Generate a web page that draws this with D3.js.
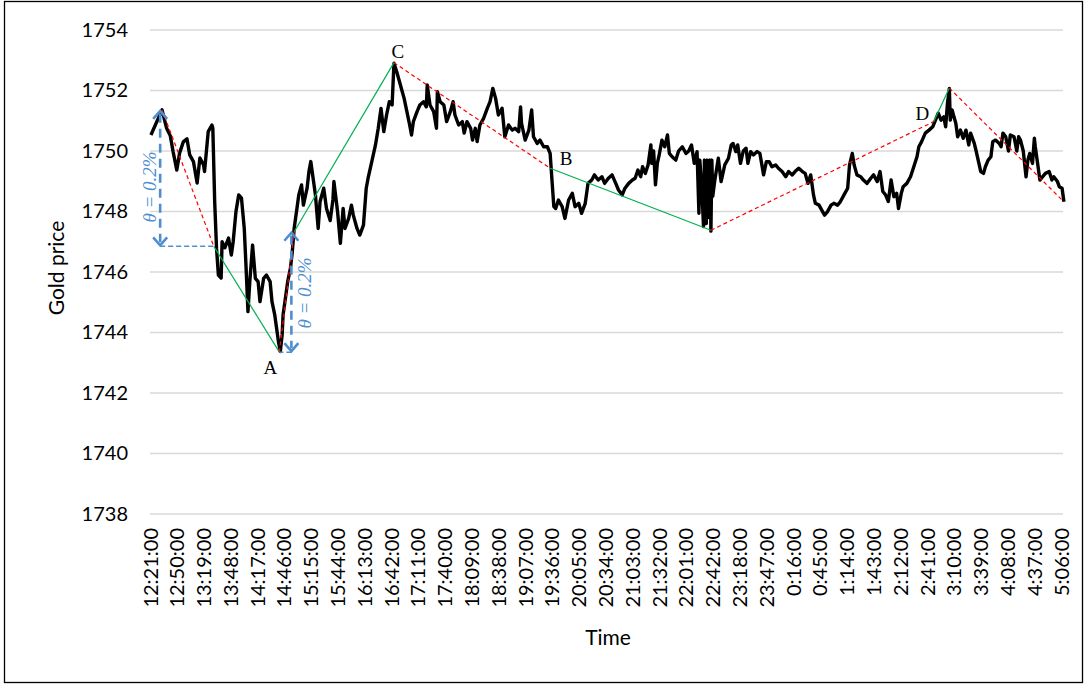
<!DOCTYPE html>
<html><head><meta charset="utf-8">
<script src="https://cdn.jsdelivr.net/npm/d3@7"></script>
<style>body{margin:0;background:#fff}svg{display:block}</style>
</head><body>
<svg id="c" width="1085" height="684"></svg>
<script>
const timeLabels = ["12:21:00","12:50:00","13:19:00","13:48:00","14:17:00","14:46:00","15:15:00","15:44:00","16:13:00","16:42:00","17:11:00","17:40:00","18:09:00","18:38:00","19:07:00","19:36:00","20:05:00","20:34:00","21:03:00","21:32:00","22:01:00","22:42:00","23:18:00","23:47:00","0:16:00","0:45:00","1:14:00","1:43:00","2:12:00","2:41:00","3:10:00","3:39:00","4:08:00","4:37:00","5:06:00"];
const labelStep = 29;
const minuteCount = 989;
const yTicks = [1738,1740,1742,1744,1746,1748,1750,1752,1754];

const minuteIndex = [1,13,18,22,25,29,32,36,40,43,47,51,54,58,59,63,67,68,70,72,74,77,78,81,85,88,90,93,96,99,102,104,106,108,111,114,117,119,123,126,130,132,135,137,139,141,143,144,146,149,152,154,156,159,161,164,166,170,172,174,177,179,182,184,188,191,195,198,199,203,206,209,211,215,218,220,224,227,231,234,236,240,244,247,250,253,256,259,262,264,267,270,273,275,278,281,283,285,289,292,296,299,300,303,307,310,311,314,318,321,325,328,330,334,338,340,343,347,349,352,354,357,361,365,368,371,374,377,381,384,388,392,395,399,401,402,406,410,413,415,419,422,426,430,433,435,437,439,442,446,449,453,457,460,464,467,471,474,478,481,485,489,492,496,500,504,507,511,514,518,522,525,528,531,533,536,539,542,543,545,547,549,551,554,557,560,562,565,569,572,576,580,583,586,589,592,594,595,597,599,600,602,603,605,606,607,608,609,611,615,618,622,626,629,631,634,636,639,642,645,647,650,653,657,660,664,667,670,673,677,680,684,688,691,695,698,702,706,709,712,715,718,720,724,728,730,733,737,740,744,747,751,755,757,760,762,765,769,772,776,780,783,787,790,793,796,799,802,805,808,810,813,815,819,823,826,830,832,835,839,843,847,850,853,856,859,861,863,865,866,868,870,872,874,877,880,883,886,888,892,894,897,899,902,904,907,910,912,915,919,921,923,926,929,931,935,938,940,942,945,948,950,952,955,957,958,960,963,966,969,973,976,978,982,984,987,989];

const goldPrice = [1750.53,1751.36,1750.75,1750.5,1749.98,1749.37,1749.93,1750.3,1750.4,1749.87,
1749.65,1748.94,1749.77,1749.54,1749.32,1750.64,1750.86,1750.75,1748.32,1746.78,
1745.9,1745.8,1747.0,1746.8,1747.12,1746.56,1747.0,1747.99,1748.55,1748.44,
1747.44,1746.13,1744.69,1745.68,1746.89,1745.79,1745.68,1745.02,1745.79,1745.9,
1745.68,1745.02,1744.58,1744.14,1743.7,1743.37,1743.92,1744.58,1745.02,1745.68,
1746.13,1746.67,1747.44,1748.1,1748.55,1748.88,1748.21,1748.77,1749.32,1749.65,
1748.99,1748.55,1747.44,1748.32,1748.77,1748.1,1747.7,1748.4,1748.99,1747.99,
1746.95,1748.1,1747.44,1747.77,1748.21,1747.88,1747.44,1747.22,1747.55,1748.77,
1749.1,1749.65,1750.2,1750.75,1751.41,1750.64,1751.19,1751.63,1751.52,1752.9,
1752.62,1752.29,1751.96,1751.74,1751.3,1750.86,1750.53,1750.97,1751.3,1751.52,
1751.63,1751.46,1752.18,1751.52,1751.3,1750.75,1751.96,1751.63,1751.52,1750.97,
1751.3,1751.63,1751.19,1750.86,1750.97,1750.59,1750.97,1750.75,1750.36,1750.75,
1750.31,1750.86,1751.08,1751.41,1751.63,1752.07,1751.74,1751.19,1751.41,1750.47,
1750.86,1750.69,1750.75,1750.64,1751.46,1750.92,1750.36,1750.69,1751.36,1750.47,
1750.25,1750.36,1750.14,1750.14,1749.92,1749.04,1748.16,1748.1,1748.38,1748.16,
1747.77,1748.38,1748.6,1748.16,1748.27,1747.94,1748.27,1748.93,1749.04,1749.21,
1749.04,1749.15,1748.93,1749.1,1749.21,1748.93,1748.71,1748.55,1748.77,1748.93,
1749.04,1749.1,1749.37,1749.15,1749.48,1749.26,1749.54,1750.2,1749.59,1750.0,
1748.88,1749.59,1749.87,1750.36,1750.14,1750.53,1749.92,1749.81,1749.7,1750.0,
1750.14,1749.92,1750.0,1750.2,1749.59,1749.98,1747.94,1749.7,1748.82,1747.5,
1749.7,1747.6,1749.7,1747.8,1749.7,1747.35,1749.7,1748.5,1748.99,1749.76,
1748.99,1749.54,1749.76,1750.2,1750.25,1749.98,1750.2,1749.59,1750.0,1750.09,
1749.59,1749.98,1749.87,1749.98,1749.92,1749.21,1749.65,1749.65,1749.48,1749.54,
1749.43,1749.32,1749.15,1749.32,1749.21,1749.32,1749.43,1749.32,1749.26,1748.93,
1749.21,1748.55,1748.27,1748.21,1747.99,1747.88,1747.99,1748.21,1748.27,1748.21,
1748.32,1748.55,1748.77,1749.54,1749.92,1749.54,1749.21,1749.15,1749.04,1748.93,
1749.1,1749.21,1748.99,1749.32,1748.66,1748.55,1748.33,1749.04,1748.49,1748.6,
1748.1,1748.6,1748.82,1748.93,1749.15,1749.43,1749.81,1750.14,1750.31,1750.59,
1750.69,1750.8,1751.02,1751.25,1751.02,1751.13,1750.8,1751.58,1752.07,1751.02,
1751.36,1751.13,1750.92,1750.47,1750.69,1750.42,1750.69,1750.2,1750.59,1750.25,
1750.0,1749.59,1749.32,1749.26,1749.48,1749.7,1749.81,1750.31,1750.36,1750.25,
1750.14,1750.59,1750.47,1750.0,1750.53,1750.47,1750.0,1750.47,1750.36,1750.0,
1749.15,1749.7,1749.92,1749.59,1750.42,1750.14,1749.7,1749.04,1749.15,1749.26,
1749.32,1749.04,1749.15,1748.99,1748.82,1748.77,1748.32];

// turning points used by the annotation (minute index, price)
const turnNames = ["P0","Q1","A","Q2","C","B","E","Q3","D","END"];
const turnMinute = [13,69,140,156,264,433,607,848,865,989];
const turnPrice  = [1751.36,1746.85,1743.35,1747.33,1752.92,1749.43,1747.38,1750.97,1752.08,1748.32];
const dashedSegments = [["P0","Q1"],["A","Q2"],["C","B"],["E","Q3"],["D","END"]];
const solidSegments  = [["Q1","A"],["Q2","C"],["B","E"],["Q3","D"]];
const pointLabels = ["A","B","C","D"];
const thetaText = "θ = 0.2%";

const svg = d3.select("#c");
const x = d3.scaleLinear().domain([0, minuteCount - 1]).range([150, 1063]);
const y = d3.scaleLinear().domain([1738, 1754]).range([514, 30]);
const tickFont = "Lato, 'Open Sans', sans-serif";

// outer frame
svg.append("rect").attr("x",4.5).attr("y",1.5).attr("width",1078).attr("height",681)
  .attr("fill","none").attr("stroke","#000").attr("stroke-width",1.3);

// grid
svg.append("g").selectAll("line").data(yTicks).join("line")
  .attr("x1", x(0)).attr("x2", x(minuteCount - 1))
  .attr("y1", d => y(d)).attr("y2", d => y(d))
  .attr("stroke", "#d9d9d9").attr("stroke-width", 1.5);

// y axis labels
const yAxis = d3.axisLeft(y).tickValues(yTicks).tickSize(0).tickPadding(0).tickFormat(d3.format("d"));
const gy = svg.append("g").attr("transform","translate(128,0)").call(yAxis);
gy.select(".domain").remove();
gy.selectAll("text").attr("font-family", tickFont).attr("font-size", 20).attr("fill","#000");

// x axis labels
const xTickIdx = timeLabels.map((t,i) => i * labelStep);
const xAxis = d3.axisBottom(x).tickValues(xTickIdx).tickSize(0).tickFormat((d,i) => timeLabels[i]);
const gx = svg.append("g").attr("transform","translate(0,528)").call(xAxis);
gx.select(".domain").remove();
gx.selectAll("text").attr("font-family", tickFont).attr("font-size", 20).attr("fill","#000")
  .attr("transform","rotate(-90)").attr("text-anchor","end").attr("dy","0.35em").attr("x",0).attr("y",0);

// axis titles
svg.append("text").attr("x", 608).attr("y", 645).attr("text-anchor","middle")
  .attr("font-family", tickFont).attr("font-size", 21).text("Time");
svg.append("text").attr("transform","translate(64,268) rotate(-90)").attr("text-anchor","middle")
  .attr("font-family", tickFont).attr("font-size", 21).text("Gold price");

// annotation lines
const tp = {};
turnNames.forEach((n,i) => tp[n] = [turnMinute[i], turnPrice[i]]);
const ann = svg.append("g");
ann.selectAll(".sol").data(solidSegments).join("line")
  .attr("x1", d => x(tp[d[0]][0])).attr("y1", d => y(tp[d[0]][1]))
  .attr("x2", d => x(tp[d[1]][0])).attr("y2", d => y(tp[d[1]][1]))
  .attr("stroke","#00b050").attr("stroke-width",1.2);

// price line
const pts = minuteIndex.map((m,i) => [m, goldPrice[i]]);
svg.append("path").datum(pts)
  .attr("d", d3.line().x(d => x(d[0])).y(d => y(d[1])))
  .attr("fill","none").attr("stroke","#000").attr("stroke-width",3.4).attr("stroke-linejoin","round");

ann.raise();
ann.selectAll(".dash").data(dashedSegments).join("line")
  .attr("x1", d => x(tp[d[0]][0])).attr("y1", d => y(tp[d[0]][1]))
  .attr("x2", d => x(tp[d[1]][0])).attr("y2", d => y(tp[d[1]][1]))
  .attr("stroke","#ff0000").attr("stroke-width",1.2).attr("stroke-dasharray","4,3");

// theta arrows
const blue = "#4f8fd0";
function thetaArrow(xm, p1, p2, hx, hp) {
  const g = svg.append("g");
  const X = x(xm), Y1 = y(p1), Y2 = y(p2);
  g.append("line").attr("x1",X).attr("x2",X).attr("y1",Y1+4).attr("y2",Y2-4)
    .attr("stroke",blue).attr("stroke-width",2.6).attr("stroke-dasharray","9,6");
  g.append("polyline").attr("points",`${X-7},${Y1+9} ${X},${Y1+1} ${X+7},${Y1+9}`)
    .attr("fill","none").attr("stroke",blue).attr("stroke-width",2.6);
  g.append("polyline").attr("points",`${X-7},${Y2-9} ${X},${Y2-1} ${X+7},${Y2-9}`)
    .attr("fill","none").attr("stroke",blue).attr("stroke-width",2.6);
  g.append("line").attr("x1",X).attr("x2",x(hx)).attr("y1",y(hp)).attr("y2",y(hp))
    .attr("stroke",blue).attr("stroke-width",1.5).attr("stroke-dasharray","5,3");
}
thetaArrow(11, tp.P0[1], tp.Q1[1], tp.Q1[0], tp.Q1[1]);
thetaArrow(153, tp.Q2[1], tp.A[1], tp.A[0], tp.A[1]);

svg.append("text").attr("transform","translate(156,187) rotate(-90)").attr("text-anchor","middle")
  .attr("font-family","'Liberation Serif', serif").attr("font-style","italic").attr("font-size",19)
  .attr("fill",blue).text(thetaText);
svg.append("text").attr("transform","translate(311,293) rotate(-90)").attr("text-anchor","middle")
  .attr("font-family","'Liberation Serif', serif").attr("font-style","italic").attr("font-size",19)
  .attr("fill",blue).text(thetaText);

// point labels
const labelOffsets = {A:[-9,22], B:[16,-3], C:[4,-5], D:[-27,32]};
svg.append("g").selectAll("text").data(pointLabels).join("text")
  .attr("x", d => x(tp[d][0]) + labelOffsets[d][0])
  .attr("y", d => y(tp[d][1]) + labelOffsets[d][1])
  .attr("text-anchor","middle")
  .attr("font-family","'Liberation Serif', serif").attr("font-size",19).text(d => d);
</script>
</body></html>
